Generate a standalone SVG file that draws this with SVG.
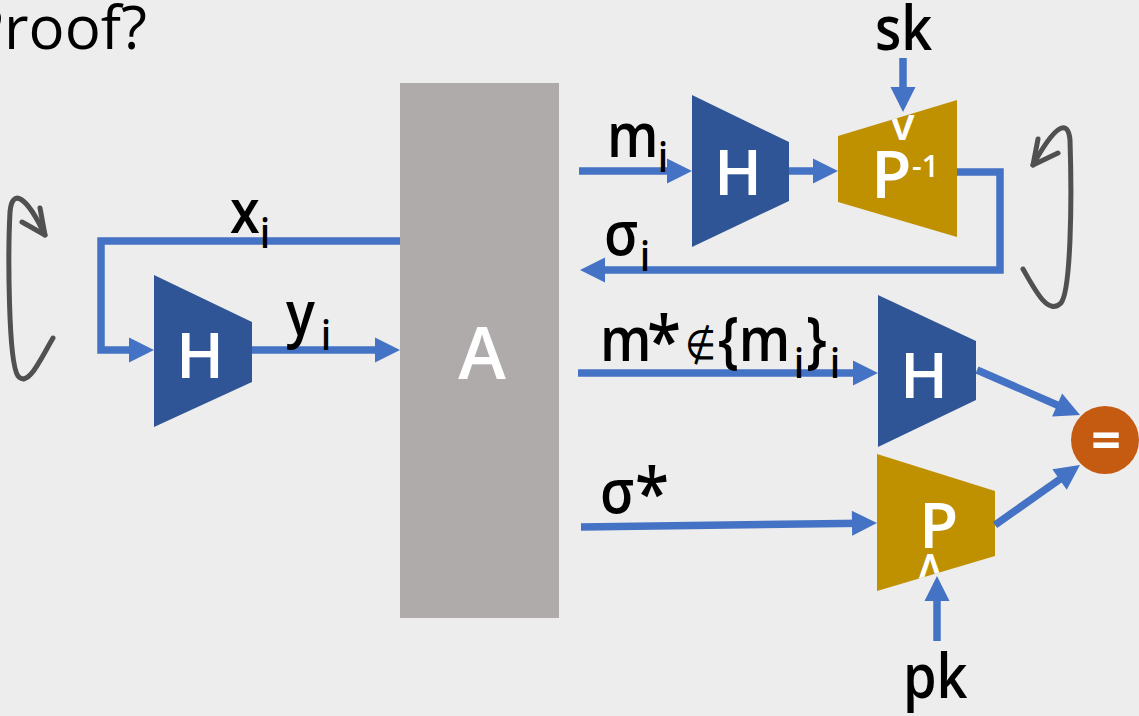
<svg xmlns="http://www.w3.org/2000/svg" width="1139" height="716" viewBox="0 0 1139 716">
  <defs>
    <style>
      .lbl{font-family:"Open Sans","DejaVu Sans",sans-serif;font-size:54px;font-weight:600;fill:#000}
      .sub{font-size:36px}
      .star{font-size:62px}
      .wt{font-family:"Open Sans","DejaVu Sans",sans-serif;font-weight:600;fill:#fff}
      .eq{font-weight:700}
      .wire{fill:none;stroke:#4472C4;stroke-width:7.5;marker-end:url(#ah)}
      .loop{fill:none;stroke:#505050;stroke-width:5;stroke-linecap:round;stroke-linejoin:round}
      .hash{fill:#2F5597}
      .perm{fill:#BF9000}
    </style>
    <marker id="ah" markerUnits="userSpaceOnUse" markerWidth="25" markerHeight="25" refX="10" refY="12.5" orient="auto" overflow="visible">
      <path d="M0,0 L25,12.5 L0,25 z" fill="#4472C4"/>
    </marker>
    <clipPath id="clipPinv"><polygon points="838,136 957,100 957,237 838,202"/></clipPath>
    <clipPath id="clipP"><polygon points="877,454 995,491 995,556 877,591"/></clipPath>
  </defs>

  <rect width="1139" height="716" fill="#EDEDED"/>

  <!-- title -->
  <text x="-32" y="49" font-family="'Open Sans',sans-serif" font-size="60" fill="#000">Proof?</text>

  <!-- adversary -->
  <g id="adversary">
    <rect x="400" y="83" width="159" height="535" fill="#AFABAB"/>
    <text class="wt" x="482" y="379" font-size="72" text-anchor="middle">A</text>
  </g>

  <!-- random-oracle hash on the left -->
  <g id="hash-left">
    <polygon class="hash" points="154,275 252,322 252,382 154,427"/>
    <text class="wt" x="200" y="378" font-size="64" text-anchor="middle">H</text>
  </g>

  <!-- signing oracle: hash then inverse permutation -->
  <g id="hash-sign">
    <polygon class="hash" points="692,95 789,142 789,201 692,247"/>
    <text class="wt" x="738" y="195" font-size="64" text-anchor="middle">H</text>
  </g>
  <g id="perm-inverse">
    <polygon class="perm" points="838,136 957,100 957,237 838,202"/>
    <text class="wt" x="890" y="140" font-size="46" clip-path="url(#clipPinv)">v</text>
    <text class="wt" x="871" y="198" font-size="66">P<tspan x="912" y="177" font-size="30">-1</tspan></text>
  </g>

  <!-- verification -->
  <g id="hash-verify">
    <polygon class="hash" points="878,295 976,341 976,400 878,447"/>
    <text class="wt" x="924" y="398" font-size="64" text-anchor="middle">H</text>
  </g>
  <g id="perm">
    <polygon class="perm" points="877,454 995,491 995,556 877,591"/>
    <text class="wt" x="919" y="548" font-size="64">P</text>
    <text class="wt" x="917" y="584" font-size="42" clip-path="url(#clipP)">Λ</text>
  </g>
  <g id="compare">
    <circle cx="1105" cy="440" r="34" fill="#C55A11"/>
    <text class="wt eq" x="1106" y="459" font-size="52" text-anchor="middle">=</text>
  </g>

  <!-- connectors -->
  <g id="connectors">
    <path class="wire" d="M400,241 H101 V350 H139"/>
    <path class="wire" d="M252,350 H385"/>
    <path class="wire" d="M579,171 H677"/>
    <path class="wire" d="M789,171 H823"/>
    <path class="wire" d="M903,58 V97"/>
    <path class="wire" d="M957,172 H1000 V270 H595"/>
    <path class="wire" d="M578,373 H863"/>
    <path class="wire" d="M581,527 L862,523.2"/>
    <path class="wire" d="M937,641 V591"/>
    <path class="wire" d="M977,370 L1066.3,409"/>
    <path class="wire" d="M995,525 L1067.7,473.7"/>
  </g>

  <!-- repetition loops -->
  <g id="loops">
    <path class="loop" d="M53,338 C40,360 28,388 18,376 C8,362 8,250 10,212 C12,188 26,195 45,235"/>
    <path class="loop" d="M40,208 L45,235 L22,222"/>
    <path class="loop" d="M1023,269 C1035,290 1048,316 1061,303 C1071,290 1072,200 1070,140 C1068,118 1055,125 1033,165"/>
    <path class="loop" d="M1038,139 L1033,165 L1058,153"/>
  </g>

  <!-- labels -->
  <g id="labels">
    <text class="lbl" transform="translate(230,233) scale(1,1.15)">x<tspan class="sub" x="30" y="13">i</tspan></text>
    <text class="lbl" transform="translate(286,335) scale(1,1.15)">y<tspan class="sub" x="35" y="13">i</tspan></text>
    <text class="lbl" transform="translate(607,157) scale(1,1.15)">m<tspan class="sub" x="51" y="13">i</tspan></text>
    <text class="lbl" transform="translate(604,255) scale(1,1.15)">σ<tspan class="sub" x="36" y="14">i</tspan></text>
    <text class="lbl" transform="translate(875,50) scale(1,1.15)">sk</text>
    <text class="lbl" transform="translate(903,698) scale(1,1.15)">pk</text>
    <text class="lbl" transform="translate(600,361) scale(1,1.15)">m<tspan class="star" x="47" y="4">*</tspan><tspan x="85" y="-2" font-family="'DejaVu Sans',sans-serif" font-size="36" font-weight="200">∉</tspan><tspan x="118" y="0">{m</tspan><tspan class="sub" x="194" y="15">i</tspan><tspan x="206" y="0">}</tspan><tspan class="sub" x="230" y="15">i</tspan></text>
    <text class="lbl" transform="translate(600,513) scale(1,1.15)">σ<tspan class="star" x="35" y="4">*</tspan></text>
  </g>
</svg>
